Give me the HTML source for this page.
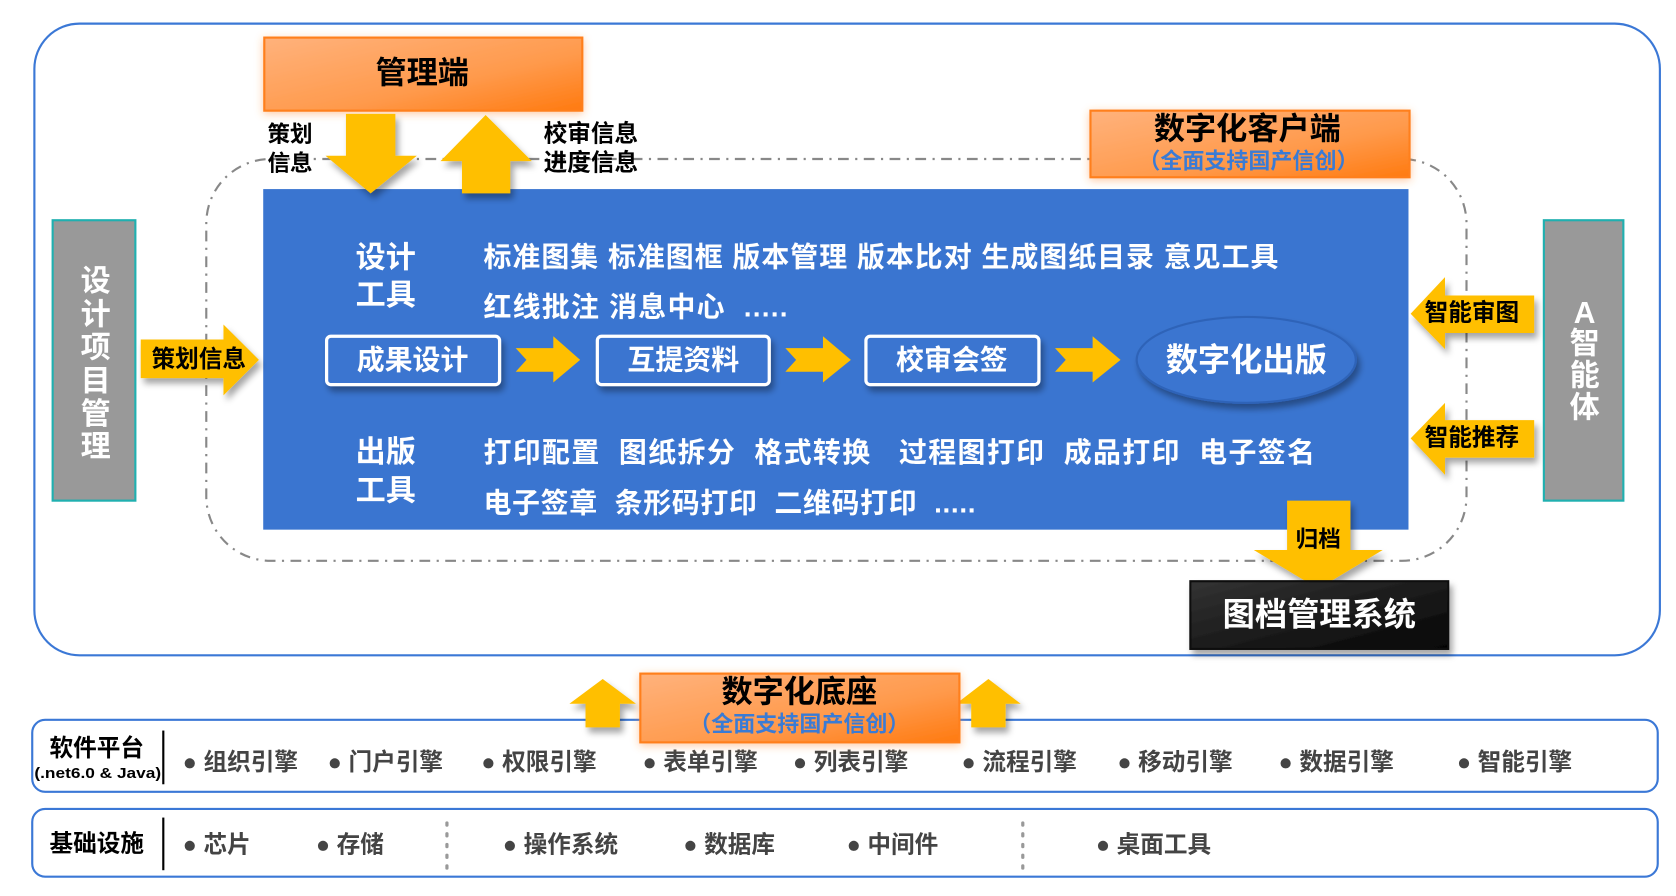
<!DOCTYPE html>
<html><head><meta charset="utf-8">
<style>
html,body{margin:0;padding:0;background:#fff;width:1676px;height:896px;overflow:hidden}
svg{display:block}
text{font-family:"Liberation Sans","Noto Sans CJK SC",sans-serif;font-weight:bold}
</style></head><body>
<svg width="1676" height="896" viewBox="0 0 1560 834" preserveAspectRatio="none" xmlns="http://www.w3.org/2000/svg">
<defs>
<linearGradient id="og" x1="0" y1="0" x2="1" y2="1">
<stop offset="0" stop-color="#ffb27c"/><stop offset="0.6" stop-color="#ff9a4c"/><stop offset="1" stop-color="#ff7a10"/></linearGradient>
<linearGradient id="bg" x1="0" y1="0" x2="1" y2="1">
<stop offset="0" stop-color="#333"/><stop offset="1" stop-color="#050505"/></linearGradient>
<filter id="sh" x="-20%" y="-20%" width="140%" height="150%"><feDropShadow dx="3" dy="5" stdDeviation="3" flood-color="#000" flood-opacity="0.35"/></filter>
<filter id="gl" x="-20%" y="-30%" width="140%" height="160%"><feDropShadow dx="0" dy="2" stdDeviation="4" flood-color="#ff8a30" flood-opacity="0.45"/></filter>
</defs>
<rect x="32" y="22" width="1513" height="588" rx="42" fill="#fff" stroke="#3b78d6" stroke-width="2"/>
<rect x="192" y="148" width="1173" height="374" rx="60" fill="none" stroke="#888" stroke-width="2" stroke-dasharray="10,6,2,6"/>
<rect x="245" y="176" width="1066" height="317" fill="#3a75d0"/>
<rect x="246" y="35" width="296" height="68" fill="url(#og)" stroke="#ff7f1a" stroke-width="2" filter="url(#gl)"/>
<text x="393" y="68" font-size="29" text-anchor="middle" dominant-baseline="central" fill="#000">管理端</text>
<polygon points="322,106 368,106 368,145 388,145 345,180 303,145 322,145" fill="#ffbf00" filter="url(#sh)"/>
<polygon points="452,107 495,150 475,150 475,180 430,180 430,150 410,150" fill="#ffbf00" filter="url(#sh)"/>
<text x="249" y="125" font-size="21" dominant-baseline="central" fill="#000">策划</text>
<text x="249" y="152" font-size="21" dominant-baseline="central" fill="#000">信息</text>
<text x="506" y="125" font-size="22" dominant-baseline="central" fill="#000">校审信息</text>
<text x="506" y="152" font-size="22" dominant-baseline="central" fill="#000">进度信息</text>
<rect x="1015" y="103" width="297" height="62" fill="url(#og)" stroke="#ff7f1a" stroke-width="2" filter="url(#gl)"/>
<text x="1161" y="120" font-size="29" text-anchor="middle" dominant-baseline="central" fill="#000">数字化客户端</text>
<text x="1162" y="150" font-size="20.5" text-anchor="middle" dominant-baseline="central" fill="#3a7bd5">（全面支持国产信创）</text>
<g fill="#fff" font-size="26" dominant-baseline="central">
<text x="331" y="240" font-size="28">设计</text><text x="331" y="275" font-size="28">工具</text>
<text x="450" y="239" textLength="740" lengthAdjust="spacing" xml:space="preserve">标准图集 标准图框 版本管理 版本比对 生成图纸目录 意见工具</text>
<text x="450" y="286" textLength="283" lengthAdjust="spacing" xml:space="preserve">红线批注 消息中心  .....</text>
<text x="331" y="421" font-size="28">出版</text><text x="331" y="457" font-size="28">工具</text>
<text x="450" y="421" textLength="774" lengthAdjust="spacing" xml:space="preserve">打印配置  图纸拆分  格式转换   过程图打印  成品打印  电子签名</text>
<text x="450" y="468" textLength="458" lengthAdjust="spacing" xml:space="preserve">电子签章  条形码打印  二维码打印  .....</text>
</g>
<g filter="url(#sh)">
<rect x="304" y="313" width="161" height="45" rx="4" fill="#3a75d0" stroke="#fff" stroke-width="3"/>
<rect x="556" y="313" width="160" height="45" rx="4" fill="#3a75d0" stroke="#fff" stroke-width="3"/>
<rect x="806" y="313" width="161" height="45" rx="4" fill="#3a75d0" stroke="#fff" stroke-width="3"/>
<ellipse cx="1160" cy="335" rx="102" ry="40" fill="#3a75d0" stroke="#2f63b8" stroke-width="2"/>
</g>
<g fill="#fff" font-size="26" text-anchor="middle" dominant-baseline="central">
<text x="384" y="335">成果设计</text><text x="636" y="335">互提资料</text><text x="886" y="335">校审会签</text>
<text x="1160" y="335" font-size="30">数字化出版</text>
</g>
<g fill="#ffbf00">
<polygon points="480,324 515,324 515,313 540,335 515,356 515,346 480,346 490,335"/>
<polygon points="731,324 766,324 766,313 792,335 766,356 766,346 731,346 741,335"/>
<polygon points="982,324 1017,324 1017,313 1043,335 1017,356 1017,346 982,346 992,335"/>
</g>
<rect x="49" y="205" width="77" height="261" fill="#999" stroke="#20b0b0" stroke-width="2"/>
<g fill="#fff" font-size="28" text-anchor="middle" dominant-baseline="central">
<text x="89" y="262">设</text><text x="89" y="293">计</text><text x="89" y="324">项</text><text x="89" y="355">目</text><text x="89" y="386">管</text><text x="89" y="416">理</text>
</g>
<polygon points="131,316 208,316 208,302 241,335 208,368 208,352 131,352" fill="#ffbf00" filter="url(#sh)"/>
<text x="185" y="335" font-size="22" text-anchor="middle" dominant-baseline="central" fill="#000">策划信息</text>
<rect x="1437" y="205" width="74" height="261" fill="#999" stroke="#20b0b0" stroke-width="2"/>
<g fill="#fff" font-size="28" text-anchor="middle" dominant-baseline="central">
<text x="1475" y="292">A</text><text x="1475" y="320">智</text><text x="1475" y="350">能</text><text x="1475" y="380">体</text>
</g>
<g fill="#ffbf00" filter="url(#sh)">
<polygon points="1313,292 1345,258 1345,275 1428,275 1428,310 1345,310 1345,325"/>
<polygon points="1313,408 1345,375 1345,391 1428,391 1428,426 1345,426 1345,442"/>
</g>
<text x="1370" y="292" font-size="22" text-anchor="middle" dominant-baseline="central" fill="#000">智能审图</text>
<text x="1370" y="408" font-size="22" text-anchor="middle" dominant-baseline="central" fill="#000">智能推荐</text>
<polygon points="1198,466 1257,466 1257,512 1287,512 1227,548 1167,512 1198,512" fill="#ffbf00" filter="url(#sh)"/>
<text x="1227" y="502" font-size="21" text-anchor="middle" dominant-baseline="central" fill="#000">归档</text>
<rect x="1108" y="541" width="240" height="63" fill="url(#bg)" stroke="#111" stroke-width="2" filter="url(#sh)"/>
<text x="1228" y="572" font-size="30" text-anchor="middle" dominant-baseline="central" fill="#fff">图档管理系统</text>
<rect x="30" y="670" width="1513" height="67" rx="12" fill="#fff" stroke="#3b78d6" stroke-width="2"/>
<rect x="30" y="753" width="1513" height="63" rx="12" fill="#fff" stroke="#3b78d6" stroke-width="2"/>
<line x1="152" y1="680" x2="152" y2="730" stroke="#000" stroke-width="2"/>
<line x1="152" y1="761" x2="152" y2="810" stroke="#000" stroke-width="2"/>
<text x="90" y="697" font-size="22" text-anchor="middle" dominant-baseline="central" fill="#000">软件平台</text>
<text x="91" y="720" font-size="14" text-anchor="middle" dominant-baseline="central" fill="#000" textLength="118" lengthAdjust="spacingAndGlyphs">(.net6.0 &amp; Java)</text>
<text x="90" y="786" font-size="22" text-anchor="middle" dominant-baseline="central" fill="#000">基础设施</text>
<g fill="#444" font-size="22" dominant-baseline="central">
<text x="170" y="710">● 组织引擎</text><text x="305" y="710">● 门户引擎</text><text x="448" y="710">● 权限引擎</text><text x="598" y="710">● 表单引擎</text><text x="738" y="710">● 列表引擎</text><text x="895" y="710">● 流程引擎</text><text x="1040" y="710">● 移动引擎</text><text x="1190" y="710">● 数据引擎</text><text x="1356" y="710">● 智能引擎</text>
<text x="170" y="787">● 芯片</text><text x="294" y="787">● 存储</text><text x="468" y="787">● 操作系统</text><text x="636" y="787">● 数据库</text><text x="788" y="787">● 中间件</text><text x="1020" y="787">● 桌面工具</text>
</g>
<line x1="416" y1="766" x2="416" y2="808" stroke="#999" stroke-width="3" stroke-dasharray="2,8" stroke-linecap="round"/>
<line x1="952" y1="766" x2="952" y2="808" stroke="#999" stroke-width="3" stroke-dasharray="2,8" stroke-linecap="round"/>
<g fill="#ffbf00" filter="url(#sh)">
<polygon points="561,632 592,655 577,655 577,677 545,677 545,655 530,655"/>
<polygon points="920,632 950,655 936,655 936,677 904,677 904,655 890,655"/>
</g>
<rect x="596" y="627" width="297" height="64" fill="url(#og)" stroke="#ff7f1a" stroke-width="2" filter="url(#gl)"/>
<text x="744" y="644" font-size="29" text-anchor="middle" dominant-baseline="central" fill="#000">数字化底座</text>
<text x="744" y="674" font-size="20.5" text-anchor="middle" dominant-baseline="central" fill="#3a7bd5">（全面支持国产信创）</text>
</svg>
</body></html>
